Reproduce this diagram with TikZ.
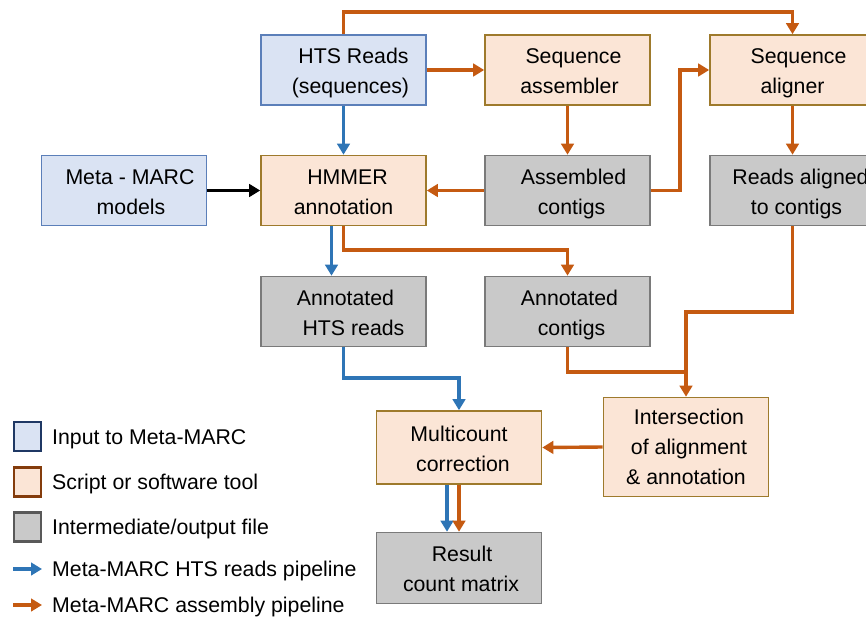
\documentclass[tikz,border=0pt]{standalone}
\usepackage{fontspec}
\setmainfont{Liberation Sans}
\usetikzlibrary{arrows.meta}
\definecolor{bfill}{HTML}{DAE3F3}
\definecolor{bdraw}{HTML}{5B7FB9}
\definecolor{ofill}{HTML}{FBE5D6}
\definecolor{odraw}{HTML}{9E7A2C}
\definecolor{gfill}{HTML}{C9C9C9}
\definecolor{gdraw}{HTML}{7A7A7A}
\definecolor{lblue}{HTML}{1F3864}
\definecolor{lorange}{HTML}{843C0C}
\definecolor{lgray}{HTML}{595959}
\definecolor{ablue}{HTML}{2E75B6}
\definecolor{aorange}{HTML}{C55A11}
\newcommand\tsh[1]{\hspace*{#1pt}}
\begin{document}
\begin{tikzpicture}[x=1pt,y=-1pt,
  every node/.style={font=\fontsize{21.3}{30}\selectfont, align=center, inner sep=0pt},
  box/.style={draw, line width=1.6pt, minimum width=165pt, minimum height=70pt, text height=47pt, text depth=0pt},
  inbox/.style={box, fill=bfill, draw=bdraw},
  toolbox/.style={box, fill=ofill, draw=odraw},
  filebox/.style={box, fill=gfill, draw=gdraw},
  conn/.style={line width=3.4pt, -{Triangle[length=11pt,width=12.5pt]}},
  bconn/.style={conn, ablue},
  oconn/.style={conn, aorange},
  kconn/.style={conn, black},
  leg/.style={draw, line width=2.8pt, minimum width=27pt, minimum height=29pt, text height=0pt, text depth=0pt},
  legtext/.style={anchor=west, text height=15pt, text depth=0pt}
]
\useasboundingbox (0,0) rectangle (866,618);
\fill[white] (0,0) rectangle (866,618);

% nodes
\node[inbox] (hts) at (343.5,70) {\tsh{20}HTS Reads\\\tsh{14}(sequences)};
\node[toolbox] (asm) at (567.5,70) {\tsh{12}Sequence\\\tsh{4}assembler};
\node[toolbox] (aln) at (792.5,70) {\tsh{12}Sequence\\aligner};
\node[inbox] (mm) at (124,190.5) {\tsh{12}Meta - MARC\\\tsh{14}models};
\node[toolbox] (hmm) at (343.5,190.5) {\tsh{8}HMMER\\annotation};
\node[filebox] (ac) at (567.5,190.5) {\tsh{12}Assembled\\\tsh{8}contigs};
\node[filebox] (rac) at (792.5,190.5) {\tsh{16}Reads aligned\\\tsh{8}to contigs};
\node[filebox] (ahts) at (343.5,311.5) {\tsh{4}Annotated\\\tsh{20}HTS reads};
\node[filebox] (acon) at (567.5,311.5) {\tsh{4}Annotated\\\tsh{8}contigs};
\node[toolbox, minimum height=73pt] (mc) at (459,447.5) {Multicount\\\tsh{8}correction};
\node[toolbox, minimum height=99pt, text height=75pt] (inter) at (686,447) {\tsh{6}Intersection\\\tsh{6}of alignment\\\& annotation};
\node[filebox, minimum height=71pt] (res) at (459,568) {\tsh{6}Result\\\tsh{4}count matrix};

\coordinate (top1) at (343.5,12);
\coordinate (top2) at (792.5,12);
\coordinate (j1) at (680,190.5);
\coordinate (j2) at (680,70);
\coordinate (h1) at (343.5,250);
\coordinate (h2) at (567.5,250);
\coordinate (r1) at (792.5,312);
\coordinate (r2) at (686,312);
\coordinate (c1) at (567.5,372);
\coordinate (c2) at (686,372);
\coordinate (a1) at (343.5,378);
\coordinate (a2) at (459,378);

% connectors
\draw[oconn] (hts.north) -- (top1) -- (top2) -- (aln.north);
\draw[oconn] (hts.east) -- (asm.west);
\draw[bconn] (hts.south) -- (hmm.north);
\draw[oconn] (asm.south) -- (ac.north);
\draw[oconn] (ac.west) -- (hmm.east);
\draw[oconn] (ac.east) -- (j1) -- (j2) -- (aln.west);
\draw[oconn] (aln.south) -- (rac.north);
\draw[kconn] (mm.east) -- (hmm.west);
\draw[bconn] ([xshift=-12pt]hmm.south) -- ([xshift=-12pt]ahts.north);
\draw[oconn] (hmm.south) -- (h1) -- (h2) -- (acon.north);
\draw[oconn] (rac.south) -- (r1) -- (r2) -- (inter.north);
\draw[line width=3.4pt, aorange] (acon.south) -- (c1) -- (c2);
\draw[bconn] (ahts.south) -- (a1) -- (a2) -- (mc.north);
\draw[oconn] (inter.west) -- (mc.east);
\draw[bconn] ([xshift=-12pt]mc.south) -- ([xshift=-12pt]res.north);
\draw[oconn] (mc.south) -- (res.north);

% legend
\node[leg, fill=bfill, draw=lblue] (l1) at (27.5,436.5) {};
\node[leg, fill=ofill, draw=lorange] (l2) at (27.5,482) {};
\node[leg, fill=gfill, draw=lgray] (l3) at (27.5,527) {};
\node[legtext] (t1) at (52,436.5) {Input to Meta-MARC};
\node[legtext] (t2) at (52,482) {Script or software tool};
\node[legtext] (t3) at (52,527) {Intermediate/output file};
\coordinate (la1) at (13,569);
\coordinate (la2) at (42,569);
\coordinate (lb1) at (13,605);
\coordinate (lb2) at (42,605);
\draw[bconn] (la1) -- (la2);
\draw[oconn] (lb1) -- (lb2);
\node[legtext] (t4) at (52,569) {Meta-MARC HTS reads pipeline};
\node[legtext] (t5) at (52,605) {Meta-MARC assembly pipeline};
\end{tikzpicture}
\end{document}
